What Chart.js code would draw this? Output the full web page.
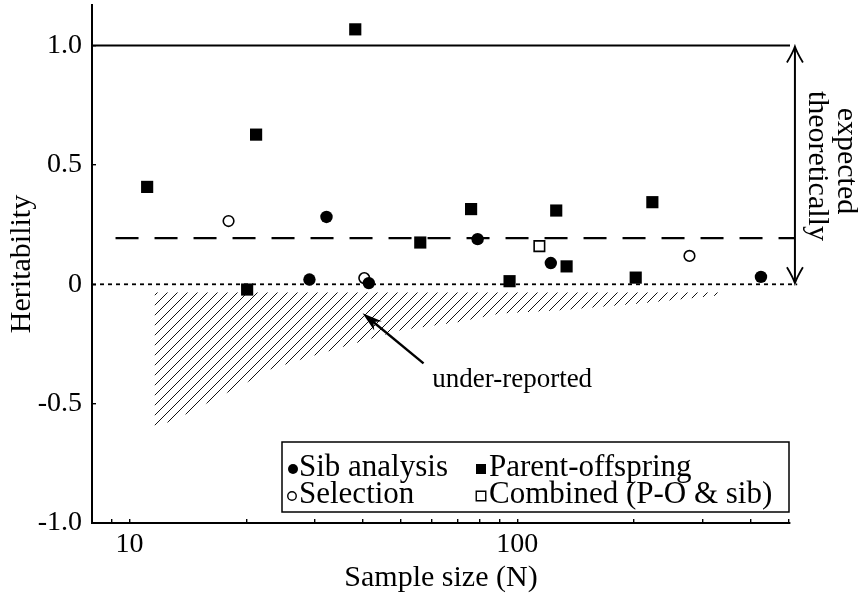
<!DOCTYPE html>
<html><head><meta charset="utf-8">
<script src="https://cdn.jsdelivr.net/npm/chart.js@4/dist/chart.umd.min.js"></script>
<style>html,body{margin:0;padding:0;background:#fff}canvas{display:block}</style>
</head><body>
<canvas id="c" width="862" height="596"></canvas>
<script>
// ---- data ----
const sibX = [29.1, 32.2, 41.4, 79, 122, 425];
const sibY = [0.020, 0.282, 0.005, 0.189, 0.089, 0.031];
const poX  = [11.1, 20.1, 21.2, 38.2, 56.2, 76, 95.5, 126, 134, 202, 223];
const poY  = [0.408, -0.022, 0.627, 1.068, 0.175, 0.315, 0.013, 0.309, 0.075, 0.028, 0.344];
const selX = [18.0, 40.3, 278];
const selY = [0.265, 0.026, 0.119];
const comX = [114];
const comY = [0.160];

const labels = ['Sib analysis', 'Parent-offspring', 'Selection', 'Combined (P-O & sib)'];

const maxLineX = [8, 505];   const maxLineY = [1.0, 1.0];
const meanLineX = [9.2, 520]; const meanLineY = [0.193, 0.193];
const zeroLineX = [8, 527];  const zeroLineY = [0, 0];

const hatchX = [11.6, 14.1, 16.7, 19.7, 23.1, 28.9, 36.5, 49.9, 70.0, 90.4, 129, 207, 333];
const hatchY = [-0.603, -0.541, -0.478, -0.419, -0.356, -0.306, -0.256, -0.193, -0.159, -0.122, -0.109, -0.080, -0.046];
const hatchTop = -0.034;

const xTicks = [9, 10, 20, 30, 40, 50, 60, 70, 80, 90, 100, 200, 300, 400, 500];
const xTickLabels = ['', '10', '', '', '', '', '', '', '', '', '100', '', '', '', ''];
const yTicks = [-1, -0.5, 0, 0.5, 1];
const yTickLabels = ['-1.0', '-0.5', '0', '0.5', '1.0'];

const xMin = 8, xMax = 505, yMin = -1, yMax = 1.17;
const arrowX = 520, arrowY0 = 0, arrowY1 = 1;
const underTip = [39.9, -0.121], underTail = [57.3, -0.331], underText = [97, -0.394];

// ---- helpers ----
const pts = (xs, ys) => xs.map((x, i) => ({x: x, y: ys[i]}));
const FONT = "'Liberation Serif', 'Times New Roman', serif";
Chart.defaults.font.family = FONT;
Chart.defaults.color = '#000';

function makeHatch() {
  const c = document.createElement('canvas'); c.width = 10; c.height = 10;
  const g = c.getContext('2d');
  g.strokeStyle = '#111'; g.lineWidth = 1;
  g.beginPath();
  g.moveTo(-1, 11); g.lineTo(11, -1);
  g.moveTo(-6, 6); g.lineTo(6, -6);
  g.moveTo(4, 16); g.lineTo(16, 4);
  g.stroke();
  return g.createPattern(c, 'repeat');
}

function drawMarker(ctx, style, filled, x, y, size) {
  ctx.save();
  ctx.beginPath();
  if (style === 'circle') ctx.arc(x, y, size / 2, 0, Math.PI * 2);
  else ctx.rect(x - size / 2, y - size / 2, size, size);
  if (filled) { ctx.fillStyle = '#000'; ctx.fill(); }
  else { ctx.fillStyle = '#fff'; ctx.fill(); ctx.lineWidth = 1.4; ctx.strokeStyle = '#000'; ctx.stroke(); }
  ctx.restore();
}

const annotPlugin = {
  id: 'annot',
  afterDraw(chart) {
    const {ctx, scales: {x, y}, chartArea: ca} = chart;
    ctx.save();
    // double-headed arrow "expected theoretically"
    const ax = x.getPixelForValue(arrowX);
    const ay0 = y.getPixelForValue(arrowY1) + 1;
    const ay1 = y.getPixelForValue(arrowY0) - 1;
    ctx.strokeStyle = '#000'; ctx.lineWidth = 2;
    ctx.beginPath(); ctx.moveTo(ax, ay0 + 2); ctx.lineTo(ax, ay1 - 2); ctx.stroke();
    ctx.lineWidth = 1.8;
    ctx.beginPath();
    ctx.moveTo(ax - 8, ay0 + 16); ctx.quadraticCurveTo(ax - 2, ay0 + 6, ax, ay0);
    ctx.quadraticCurveTo(ax + 2, ay0 + 6, ax + 8, ay0 + 16);
    ctx.moveTo(ax - 8, ay1 - 16); ctx.quadraticCurveTo(ax - 2, ay1 - 6, ax, ay1);
    ctx.quadraticCurveTo(ax + 2, ay1 - 6, ax + 8, ay1 - 16);
    ctx.stroke();
    // rotated text
    const midY = (ay0 + ay1) / 2;
    ctx.fillStyle = '#000';
    ctx.font = '30px ' + FONT;
    ctx.textAlign = 'center'; ctx.textBaseline = 'middle';
    ctx.save(); ctx.translate(ax + 22, midY + 1); ctx.rotate(Math.PI / 2); ctx.fillText('theoretically', 0, 0); ctx.restore();
    ctx.save(); ctx.translate(ax + 51, midY - 4); ctx.rotate(Math.PI / 2); ctx.fillText('expected', 0, 0); ctx.restore();

    // "under-reported" arrow
    const tx = x.getPixelForValue(underTip[0]), ty = y.getPixelForValue(underTip[1]);
    const bx = x.getPixelForValue(underTail[0]), by = y.getPixelForValue(underTail[1]);
    const ang = Math.atan2(ty - by, tx - bx);
    ctx.lineWidth = 2.4;
    ctx.beginPath(); ctx.moveTo(bx, by); ctx.lineTo(tx - 10 * Math.cos(ang), ty - 10 * Math.sin(ang)); ctx.stroke();
    const L = 20, W = 6;
    ctx.beginPath();
    ctx.moveTo(tx, ty);
    ctx.lineTo(tx - L * Math.cos(ang) + W * Math.sin(ang), ty - L * Math.sin(ang) - W * Math.cos(ang));
    ctx.lineTo(tx - 0.7 * L * Math.cos(ang), ty - 0.7 * L * Math.sin(ang));
    ctx.lineTo(tx - L * Math.cos(ang) - W * Math.sin(ang), ty - L * Math.sin(ang) + W * Math.cos(ang));
    ctx.closePath(); ctx.fill();
    ctx.font = '27px ' + FONT;
    ctx.textAlign = 'center'; ctx.textBaseline = 'alphabetic';
    ctx.fillText('under-reported', x.getPixelForValue(underText[0]), y.getPixelForValue(underText[1]) + 9);

    // legend box
    const L0 = 282, R0 = ca.right - 1, T0 = ca.bottom - 81, B0 = ca.bottom - 11;
    ctx.fillStyle = '#fff'; ctx.fillRect(L0, T0, R0 - L0, B0 - T0);
    ctx.strokeStyle = '#000'; ctx.lineWidth = 1.5; ctx.strokeRect(L0, T0, R0 - L0, B0 - T0);
    const items = [
      {i: 0, style: 'circle', filled: true, mx: 293, tx: 299, base: 34, size: 10},
      {i: 1, style: 'rect', filled: true, mx: 481, tx: 489, base: 34, size: 10},
      {i: 2, style: 'circle', filled: false, mx: 292, tx: 299, base: 61, size: 8.5},
      {i: 3, style: 'rect', filled: false, mx: 481, tx: 489, base: 61, size: 9.5}
    ];
    ctx.font = '31px ' + FONT; ctx.textAlign = 'left'; ctx.textBaseline = 'alphabetic';
    items.forEach(it => {
      const by2 = T0 + it.base;
      drawMarker(ctx, it.style, it.filled, it.mx, by2 - 7, it.size);
      ctx.fillStyle = '#000';
      ctx.fillText(chart.data.datasets[it.i].label, it.tx, by2);
    });
    ctx.restore();
  }
};

function zeroPad(s) { s.paddingTop = 0; s.paddingBottom = 0; s.paddingLeft = 0; s.paddingRight = 0; }

new Chart(document.getElementById('c'), {
  type: 'scatter',
  data: {
    datasets: [
      {label: labels[0], data: pts(sibX, sibY), pointStyle: 'circle', pointRadius: 6.2, backgroundColor: '#000', borderColor: '#000', borderWidth: 0},
      {label: labels[1], data: pts(poX, poY), pointStyle: 'rect', pointRadius: 8.6, backgroundColor: '#000', borderColor: '#000', borderWidth: 0},
      {label: labels[2], data: pts(selX, selY), pointStyle: 'circle', pointRadius: 5.3, backgroundColor: '#fff', borderColor: '#000', borderWidth: 1.6},
      {label: labels[3], data: pts(comX, comY), pointStyle: 'rect', pointRadius: 7.4, backgroundColor: '#fff', borderColor: '#000', borderWidth: 1.6},
      {label: 'max', type: 'line', data: pts(maxLineX, maxLineY), borderColor: '#000', borderWidth: 2, pointRadius: 0, clip: false, fill: false},
      {label: 'mean', type: 'line', data: pts(meanLineX, meanLineY), borderColor: '#000', borderWidth: 2.2, borderDash: [23, 16], pointRadius: 0, clip: false, fill: false},
      {label: 'zero', type: 'line', data: pts(zeroLineX, zeroLineY), borderColor: '#000', borderWidth: 1.8, borderDash: [4, 4], pointRadius: 0, clip: false, fill: false},
      {label: 'under', type: 'line', data: pts(hatchX, hatchY), borderWidth: 0, borderColor: 'rgba(0,0,0,0)', pointRadius: 0, backgroundColor: makeHatch(), fill: {value: hatchTop}, tension: 0}
    ]
  },
  options: {
    responsive: false, animation: false, devicePixelRatio: 1, events: [],
    layout: {autoPadding: false, padding: {left: 0, right: 72, top: 5, bottom: 0}},
    plugins: {legend: {display: false}, tooltip: {enabled: false}},
    scales: {
      x: {
        type: 'logarithmic', min: xMin, max: xMax,
        afterFit(s) { s.height = 73; zeroPad(s); },
        afterBuildTicks(s) { s.ticks = xTicks.map(v => ({value: v})); },
        ticks: {autoSkip: false, maxRotation: 0, padding: 9, font: {size: 28},
                callback: (v) => { const k = xTicks.indexOf(v); return k >= 0 ? xTickLabels[k] : ''; }},
        grid: {drawOnChartArea: false, drawTicks: true, tickLength: -4, color: '#000', lineWidth: 1.4},
        border: {display: true, color: '#000', width: 2},
        title: {display: true, text: 'Sample size (N)', font: {size: 30}, padding: {top: 0, bottom: 0}}
      },
      y: {
        type: 'linear', min: yMin, max: yMax,
        afterFit(s) { s.width = 92; zeroPad(s); },
        afterBuildTicks(s) { s.ticks = yTicks.map(v => ({value: v})); },
        ticks: {autoSkip: false, padding: 14, font: {size: 28},
                callback: (v) => { const k = yTicks.indexOf(v); return k >= 0 ? yTickLabels[k] : ''; }},
        grid: {drawOnChartArea: false, drawTicks: true, tickLength: -4, color: '#000', lineWidth: 1.4},
        border: {display: true, color: '#000', width: 2},
        title: {display: true, text: 'Heritability', font: {size: 30}, padding: {top: 4, bottom: 0}}
      }
    }
  },
  plugins: [annotPlugin]
});
</script>
</body></html>
